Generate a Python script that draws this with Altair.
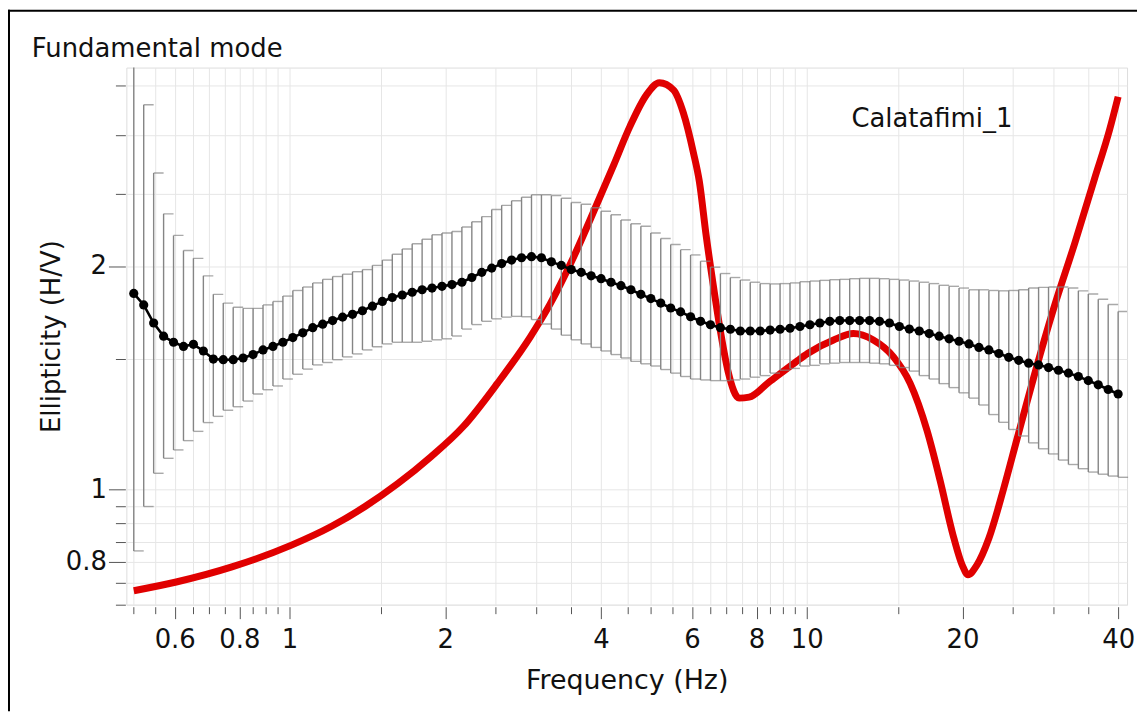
import altair as alt
import numpy as np
import pandas as pd

# ---------------- data ----------------
freq = np.geomspace(0.5, 40, 100)  # sampling grid of the measured curve (Hz)

ell_mean = [1.837, 1.773, 1.676, 1.609, 1.579, 1.559, 1.569, 1.537, 1.499, 1.496,
            1.496, 1.504, 1.520, 1.542, 1.559, 1.579, 1.602, 1.626, 1.652, 1.670,
            1.689, 1.707, 1.722, 1.741, 1.766, 1.792, 1.814, 1.828, 1.844, 1.858,
            1.868, 1.878, 1.888, 1.902, 1.930, 1.961, 1.987, 2.015, 2.037, 2.052,
            2.059, 2.052, 2.026, 2.004, 1.978, 1.961, 1.940, 1.923, 1.902, 1.882,
            1.858, 1.832, 1.808, 1.783, 1.756, 1.735, 1.709, 1.685, 1.667, 1.652,
            1.644, 1.635, 1.635, 1.635, 1.640, 1.644, 1.649, 1.658, 1.667, 1.676,
            1.685, 1.689, 1.689, 1.689, 1.689, 1.685, 1.676, 1.658, 1.645, 1.635,
            1.622, 1.609, 1.596, 1.584, 1.571, 1.554, 1.542, 1.525, 1.507, 1.493,
            1.480, 1.472, 1.460, 1.448, 1.435, 1.420, 1.402, 1.384, 1.364, 1.345]

ell_upper = [4.500, 3.297, 2.669, 2.351, 2.199, 2.099, 2.048, 1.940, 1.832, 1.783,
             1.760, 1.754, 1.754, 1.773, 1.792, 1.822, 1.854, 1.874, 1.898, 1.919,
             1.936, 1.950, 1.965, 1.978, 2.004, 2.037, 2.074, 2.108, 2.143, 2.173,
             2.204, 2.216, 2.226, 2.257, 2.294, 2.331, 2.383, 2.414, 2.448, 2.475,
             2.494, 2.494, 2.489, 2.467, 2.435, 2.422, 2.396, 2.370, 2.344, 2.307,
             2.280, 2.262, 2.216, 2.178, 2.138, 2.104, 2.070, 2.030, 1.993, 1.954,
             1.930, 1.915, 1.902, 1.894, 1.892, 1.894, 1.898, 1.905, 1.909, 1.913,
             1.917, 1.919, 1.923, 1.925, 1.925, 1.923, 1.919, 1.915, 1.909, 1.902,
             1.894, 1.884, 1.878, 1.868, 1.858, 1.858, 1.854, 1.852, 1.854, 1.858,
             1.868, 1.872, 1.874, 1.874, 1.868, 1.852, 1.834, 1.804, 1.775, 1.737]

ell_lower = [0.827, 0.949, 1.052, 1.102, 1.131, 1.164, 1.198, 1.231, 1.255, 1.279,
             1.293, 1.316, 1.345, 1.363, 1.379, 1.409, 1.430, 1.453, 1.472, 1.483,
             1.496, 1.509, 1.523, 1.542, 1.557, 1.571, 1.579, 1.579, 1.579, 1.584,
             1.591, 1.596, 1.610, 1.645, 1.668, 1.685, 1.698, 1.707, 1.711, 1.709,
             1.694, 1.671, 1.645, 1.614, 1.591, 1.571, 1.554, 1.537, 1.520, 1.504,
             1.488, 1.477, 1.467, 1.451, 1.435, 1.420, 1.409, 1.405, 1.402, 1.402,
             1.405, 1.409, 1.417, 1.424, 1.435, 1.448, 1.456, 1.467, 1.470, 1.477,
             1.480, 1.483, 1.483, 1.483, 1.480, 1.477, 1.470, 1.460, 1.444, 1.424,
             1.409, 1.389, 1.372, 1.350, 1.328, 1.300, 1.262, 1.232, 1.205, 1.181,
             1.156, 1.135, 1.117, 1.096, 1.081, 1.067, 1.056, 1.049, 1.043, 1.039]

model_freq = [0.50, 0.604, 0.774, 1.009, 1.204, 1.400, 1.620, 1.876, 2.170, 2.523,
              2.920, 3.190, 3.517, 3.930, 4.240, 4.550, 4.900, 5.190, 5.530, 5.770,
              6.040, 6.200, 6.390, 6.600, 6.830, 7.050, 7.400, 7.740, 8.450, 9.520,
              10.04, 11.27, 12.31, 13.45, 14.70, 15.85, 17.09, 18.10, 19.17, 20.00,
              20.50, 21.30, 22.50, 24.00, 25.50, 27.50, 30.00, 33.00, 36.00, 38.50,
              40.00]
model_ell = [0.731, 0.751, 0.787, 0.842, 0.892, 0.949, 1.019, 1.107, 1.217, 1.390,
             1.605, 1.777, 2.034, 2.424, 2.741, 3.081, 3.400, 3.530, 3.450, 3.220,
             2.840, 2.600, 2.200, 1.880, 1.615, 1.440, 1.328, 1.332, 1.395, 1.485,
             1.525, 1.590, 1.622, 1.590, 1.510, 1.390, 1.200, 1.030, 0.870, 0.790,
             0.768, 0.790, 0.860, 1.000, 1.170, 1.420, 1.750, 2.150, 2.620, 3.050,
             3.380]

x_ticks = [0.5, 0.55, 0.6, 0.65, 0.7, 0.75, 0.8, 0.85, 0.9, 0.95, 1,
           1.5, 2, 2.5, 3, 3.5, 4, 4.5, 5, 5.5, 6, 6.5, 7, 7.5, 8, 8.5, 9, 9.5, 10,
           15, 20, 25, 30, 35, 40]
x_labels = [0.6, 0.8, 1, 2, 4, 6, 8, 10, 20, 40]
y_ticks = [0.7, 0.75, 0.8, 0.85, 0.9, 0.95, 1, 1.5, 2, 2.5, 3, 3.5]
y_labels = [0.8, 1, 2]

title_text = "Fundamental mode"
site_name = "Calatafimi_1"
x_title = "Frequency (Hz)"
y_title = "Ellipticity (H/V)"

# ---------------- chart ----------------
W, H = 1006, 540
PAD_L, PAD_T = 119, 58
TOTAL_W, TOTAL_H = 1135, 705
FONT = "DejaVu Sans"

meas = pd.DataFrame({"f": freq, "m": ell_mean, "hi": ell_upper, "lo": ell_lower})
model = pd.DataFrame({"f": model_freq, "e": model_ell})

xl = "[" + ",".join(str(v) for v in x_labels) + "]"
yl = "[" + ",".join(str(v) for v in y_labels) + "]"

xscale = alt.Scale(type="log", domain=[0.4838, 41.62], nice=False)
yscale = alt.Scale(type="log", domain=[0.7, 3.7], nice=False)

xaxis = alt.Axis(
    values=x_ticks, title=x_title, grid=True, gridColor="#e6e6e6", gridWidth=1,
    domain=False, offset=2, tickColor="#555555", tickWidth=1,
    tickSize={"condition": {"test": f"indexof({xl}, datum.value) >= 0", "value": 12}, "value": 7},
    labelExpr=f"indexof({xl}, datum.value) >= 0 ? toString(datum.value) : ''",
    labelFont=FONT, labelFontSize=26, labelColor="#111111", labelPadding=8,
    labelOverlap=False, labelFlush=False,
    titleFont=FONT, titleFontSize=27, titleFontWeight="normal", titleColor="#111111",
    titlePadding=15,
)
yaxis = alt.Axis(
    values=y_ticks, title=y_title, grid=True, gridColor="#e6e6e6", gridWidth=1,
    domain=False, offset=1, tickColor="#555555", tickWidth=1,
    tickSize={"condition": {"test": f"indexof({yl}, datum.value) >= 0", "value": 17}, "value": 10},
    labelExpr=f"indexof({yl}, datum.value) >= 0 ? toString(datum.value) : ''",
    labelFont=FONT, labelFontSize=26, labelColor="#111111", labelPadding=2,
    labelOverlap=False, labelFlush=False,
    titleFont=FONT, titleFontSize=26, titleFontWeight="normal", titleColor="#111111",
    titlePadding=1,
)

base = alt.Chart(meas)

red = alt.Chart(model).mark_line(color="#e00000", strokeWidth=7, interpolate="monotone").encode(
    x=alt.X("f:Q", scale=xscale, axis=xaxis),
    y=alt.Y("e:Q", scale=yscale, axis=yaxis),
)

bars = base.mark_rule(color="#858585", strokeWidth=1.4, clip=True).encode(
    x=alt.X("f:Q", scale=xscale), y=alt.Y("lo:Q", scale=yscale), y2="hi:Q")
cap_hi = base.mark_tick(orient="horizontal", color="#858585", thickness=1.4, size=10,
                        xOffset=5, clip=True).encode(
    x=alt.X("f:Q", scale=xscale), y=alt.Y("hi:Q", scale=yscale))
cap_lo = base.mark_tick(orient="horizontal", color="#858585", thickness=1.4, size=10,
                        xOffset=5).encode(
    x=alt.X("f:Q", scale=xscale), y=alt.Y("lo:Q", scale=yscale))

mline = base.mark_line(color="black", strokeWidth=2.6).encode(
    x=alt.X("f:Q", scale=xscale), y=alt.Y("m:Q", scale=yscale))
mpts = base.mark_circle(color="black", size=85, opacity=1).encode(
    x=alt.X("f:Q", scale=xscale), y=alt.Y("m:Q", scale=yscale))

site = alt.Chart(pd.DataFrame({"t": [site_name]})).mark_text(
    font=FONT, fontSize=26, color="#111111", align="left", baseline="alphabetic").encode(
    x=alt.datum(12.2, scale=xscale), y=alt.datum(3.08, scale=yscale), text="t:N")

ttl = alt.Chart(pd.DataFrame({"t": [title_text]})).mark_text(
    font=FONT, fontSize=26, color="#111111", align="left", baseline="alphabetic").encode(
    x=alt.value(-95), y=alt.value(-11), text="t:N")

frame = pd.DataFrame({"k": [0]})
top_border = alt.Chart(frame).mark_rule(color="black", strokeWidth=2).encode(
    x=alt.value(-PAD_L), x2=alt.value(TOTAL_W - PAD_L), y=alt.value(-PAD_T + 1))
left_border = alt.Chart(frame).mark_rule(color="black", strokeWidth=2).encode(
    x=alt.value(-PAD_L + 1), y=alt.value(-PAD_T), y2=alt.value(TOTAL_H - PAD_T))

chart = alt.layer(
    red, bars, cap_hi, cap_lo, mline, mpts, site, ttl, top_border, left_border
).properties(
    width=W, height=H,
    autosize=alt.AutoSizeParams(type="none"),
    padding={"left": PAD_L, "top": PAD_T, "right": TOTAL_W - PAD_L - W,
             "bottom": TOTAL_H - PAD_T - H},
).configure_view(stroke=None).configure(font=FONT, background="white")

chart.save("out.html", embed_options={"renderer": "svg", "actions": False})
